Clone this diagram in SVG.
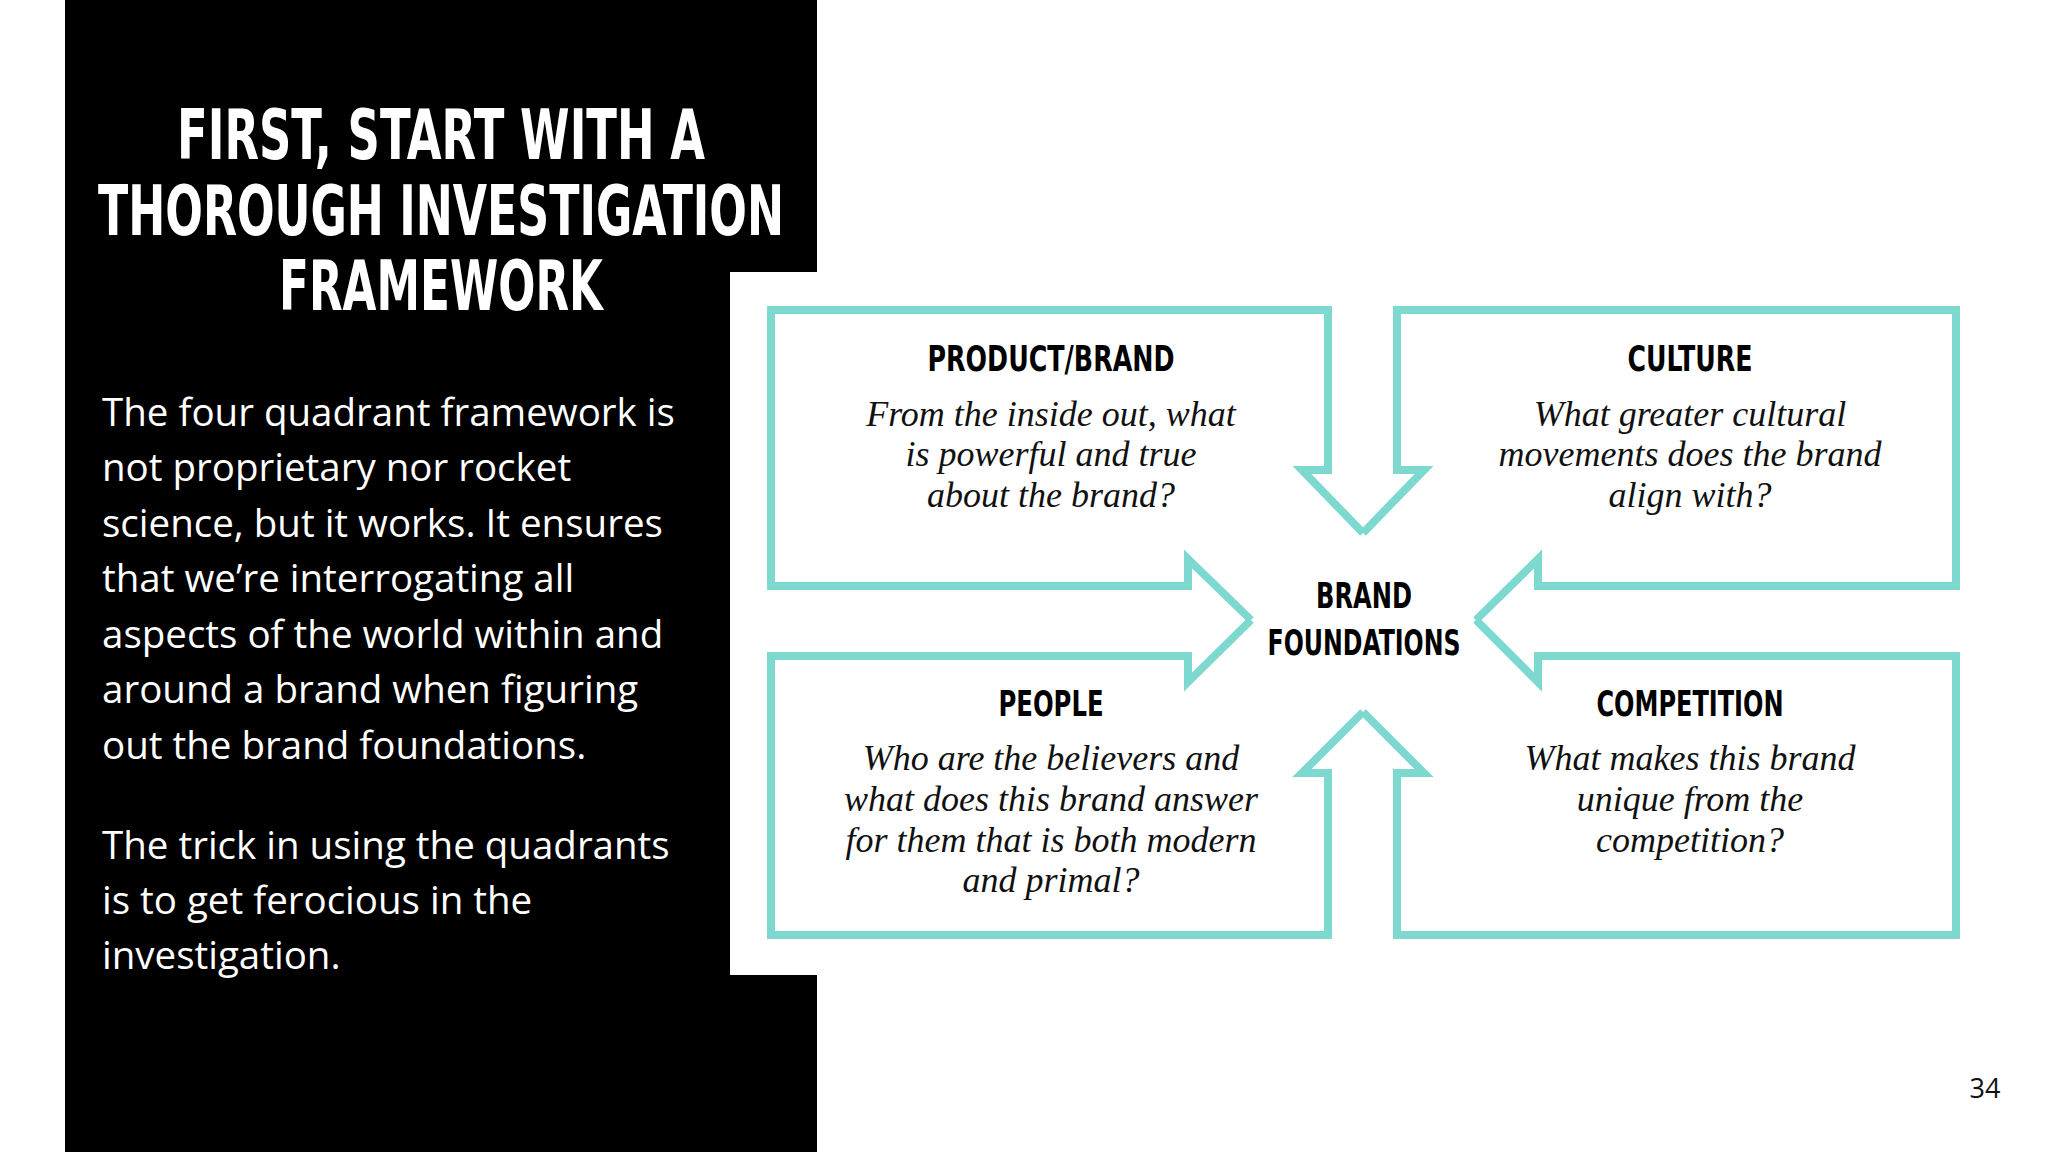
<svg xmlns="http://www.w3.org/2000/svg" width="2048" height="1152" viewBox="0 0 2048 1152">
<style>
.t{font-family:"DejaVu Sans Condensed","DejaVu Sans",sans-serif;font-weight:bold;text-anchor:middle}
.b{font-family:"Open Sans","Noto Sans",sans-serif;font-size:38.5px;fill:#fff}
.i{font-family:"Liberation Serif",serif;font-style:italic;font-size:36px;fill:#111;text-anchor:middle}
.q{fill:none;stroke:#7dd8cf;stroke-width:8;stroke-linejoin:miter}
</style>
<rect width="2048" height="1152" fill="#fff"/>
<rect x="65" y="0" width="752" height="1152" fill="#000"/>
<rect x="730" y="272" width="1318" height="703" fill="#fff"/>
<g id="title" class="t" fill="#fff" font-size="70">
<text x="441" y="159" textLength="528" lengthAdjust="spacingAndGlyphs">FIRST, START WITH A</text>
<text x="441" y="235" textLength="686" lengthAdjust="spacingAndGlyphs">THOROUGH INVESTIGATION</text>
<text x="441" y="310" textLength="324" lengthAdjust="spacingAndGlyphs">FRAMEWORK</text>
</g>
<g id="body" class="b">
<text x="102" y="426">The four quadrant framework is</text>
<text x="102" y="481">not proprietary nor rocket</text>
<text x="102" y="537">science, but it works. It ensures</text>
<text x="102" y="592">that we’re interrogating all</text>
<text x="102" y="648">aspects of the world within and</text>
<text x="102" y="703">around a brand when figuring</text>
<text x="102" y="759">out the brand foundations.</text>
<text x="102" y="859">The trick in using the quadrants</text>
<text x="102" y="914">is to get ferocious in the</text>
<text x="102" y="969">investigation.</text>
</g>
<g id="connectors">
<path class="q" d="M1251,620 L1188,559 L1188,586 L771,586 L771,310 L1328,310 L1328,470 L1302,470 L1363,533"/>
<path class="q" d="M1363,533 L1424,470 L1397,470 L1397,310 L1956,310 L1956,586 L1538,586 L1538,559 L1476,620"/>
<path class="q" d="M1476,620 L1538,682 L1538,656 L1956,656 L1956,935 L1397,935 L1397,773 L1424,773 L1363,712"/>
<path class="q" d="M1363,712 L1302,773 L1328,773 L1328,935 L771,935 L771,656 L1188,656 L1188,682 L1251,620"/>
</g>
<g id="product">
<text class="t" x="1051" y="371" font-size="36" textLength="247" lengthAdjust="spacingAndGlyphs">PRODUCT/BRAND</text>
<text class="i" x="1051" y="426">From the inside out, what</text>
<text class="i" x="1051" y="466">is powerful and true</text>
<text class="i" x="1051" y="507">about the brand?</text>
</g>
<g id="culture">
<text class="t" x="1690" y="371" font-size="36" textLength="125" lengthAdjust="spacingAndGlyphs">CULTURE</text>
<text class="i" x="1690" y="426">What greater cultural</text>
<text class="i" x="1690" y="466">movements does the brand</text>
<text class="i" x="1690" y="507">align with?</text>
</g>
<g id="people">
<text class="t" x="1051" y="716" font-size="36" textLength="105" lengthAdjust="spacingAndGlyphs">PEOPLE</text>
<text class="i" x="1051" y="770">Who are the believers and</text>
<text class="i" x="1051" y="811">what does this brand answer</text>
<text class="i" x="1051" y="852">for them that is both modern</text>
<text class="i" x="1051" y="892">and primal?</text>
</g>
<g id="competition">
<text class="t" x="1690" y="716" font-size="36" textLength="187" lengthAdjust="spacingAndGlyphs">COMPETITION</text>
<text class="i" x="1690" y="770">What makes this brand</text>
<text class="i" x="1690" y="811">unique from the</text>
<text class="i" x="1690" y="852">competition?</text>
</g>
<g id="brand">
<text class="t" x="1364" y="608" font-size="36" textLength="96" lengthAdjust="spacingAndGlyphs">BRAND</text>
<text class="t" x="1364" y="655" font-size="36" textLength="193" lengthAdjust="spacingAndGlyphs">FOUNDATIONS</text>
</g>
<text x="1985" y="1098" font-family="Open Sans,sans-serif" font-size="27" text-anchor="middle" fill="#111">34</text>
</svg>
